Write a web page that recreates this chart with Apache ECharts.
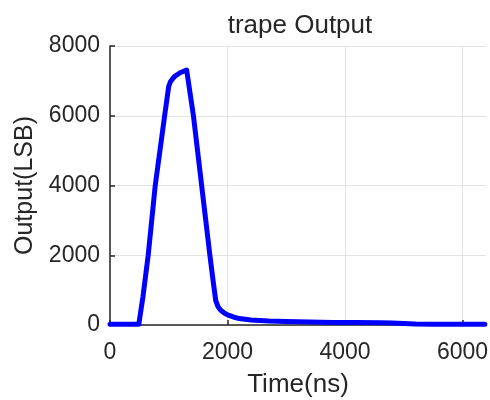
<!DOCTYPE html>
<html>
<head>
<meta charset="utf-8">
<script src="https://cdn.jsdelivr.net/npm/echarts@6/dist/echarts.min.js"></script>
<style>
  html, body { margin: 0; padding: 0; background: #ffffff; }
  #chart { width: 490px; height: 400px; }
</style>
</head>
<body>
<div id="chart"></div>
<script>
// Trapezoidal filter output sampled over time
const timeNs = [0, 100, 200, 300, 400, 490, 500, 560, 650, 710, 770, 850, 930, 1000, 1030,
  1100, 1200, 1305, 1420, 1490, 1560, 1630, 1700, 1760, 1800, 1840, 1880, 1940,
  2000, 2100, 2200, 2400, 2700, 3000, 3400, 3800, 4200, 4600, 4800, 5000, 5200, 5500, 6000, 6380];
const outputLsb = [20, 20, 20, 20, 20, 20, 30, 800, 2000, 3000, 4000, 5000, 6000, 6850, 6980,
  7130, 7240, 7310, 6000, 5000, 4000, 3000, 2000, 1200, 700, 520, 430, 350,
  290, 230, 185, 145, 115, 100, 88, 75, 70, 68, 60, 45, 30, 22, 20, 20];

const xTicks = [0, 2000, 4000, 6000];
const yTicks = [0, 2000, 4000, 6000, 8000];

const ink = '#262626';
const fontFamily = 'Liberation Sans, Arial, Helvetica, sans-serif';

const chart = echarts.init(document.getElementById('chart'), null, { renderer: 'canvas' });

chart.setOption({
  animation: false,
  backgroundColor: '#ffffff',
  title: {
    text: 'trape Output',
    left: 295,
    textAlign: 'center',
    top: 8,
    textStyle: { color: ink, fontSize: 26, fontWeight: 'normal', fontFamily }
  },
  grid: {
    left: 110, top: 46, width: 376, height: 279,
    outerBoundsMode: 'none',
    containLabel: false
  },
  xAxis: {
    type: 'value',
    min: 0,
    max: 6400,
    interval: 2000,
    name: 'Time(ns)',
    nameLocation: 'middle',
    nameGap: 47,
    nameTextStyle: { color: ink, fontSize: 26, fontFamily },
    axisLine: { show: true, lineStyle: { color: ink, width: 1.5 } },
    axisTick: { show: true, inside: true, length: 5, lineStyle: { color: ink, width: 1.5 } },
    axisLabel: {
      color: ink, fontSize: 23, fontFamily, margin: 16,
      showMaxLabel: false,
      formatter: v => (xTicks.includes(v) ? String(v) : '')
    },
    splitLine: { show: true, showMaxLine: false, lineStyle: { color: '#e3e3e3', width: 1 } }
  },
  yAxis: {
    type: 'value',
    min: 0,
    max: 8000,
    interval: 2000,
    name: 'Output(LSB)',
    nameLocation: 'middle',
    nameGap: 67,
    nameTextStyle: { color: ink, fontSize: 25, fontFamily },
    axisLine: { show: true, lineStyle: { color: ink, width: 1.5 } },
    axisTick: { show: true, inside: true, length: 5, lineStyle: { color: ink, width: 1.5 } },
    axisLabel: {
      color: ink, fontSize: 23, fontFamily, margin: 10,
      formatter: v => (yTicks.includes(v) ? String(v) : '')
    },
    splitLine: { show: true, lineStyle: { color: '#e3e3e3', width: 1 } }
  },
  series: [{
    type: 'line',
    data: timeNs.map((t, i) => [t, outputLsb[i]]),
    showSymbol: false,
    smooth: false,
    lineStyle: { color: '#0000ff', width: 5, join: 'round', cap: 'round' },
    clip: true
  }]
});
</script>
</body>
</html>
